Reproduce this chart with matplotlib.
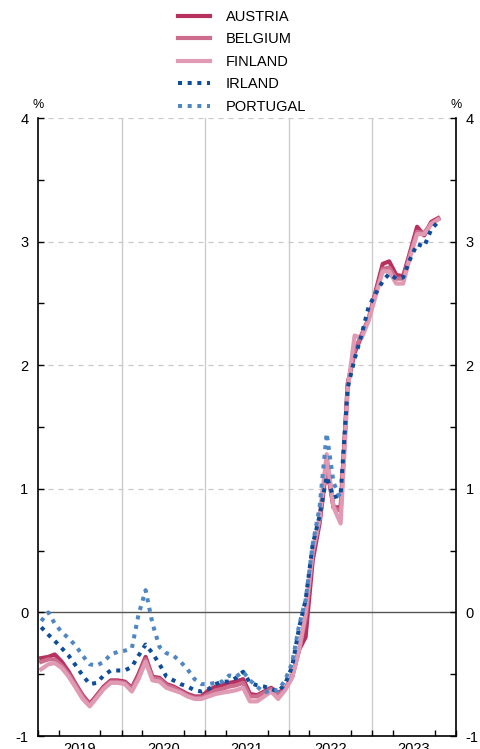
import numpy as np
import pandas as pd
import matplotlib
matplotlib.use("Agg")
import matplotlib.pyplot as plt
import matplotlib.dates as mdates

plt.rcParams['font.family'] = ['Liberation Sans', 'DejaVu Sans']
plt.rcParams['axes.unicode_minus'] = False

months = pd.date_range('2019-01-01', '2023-10-01', freq='MS') + pd.Timedelta(days=14)

austria = [-0.37, -0.36, -0.34, -0.40, -0.48, -0.58, -0.67, -0.74, -0.67, -0.60,
           -0.55, -0.55, -0.56, -0.61, -0.50, -0.36, -0.52, -0.53, -0.58, -0.60,
           -0.63, -0.66, -0.68, -0.68, -0.63, -0.60, -0.59, -0.57, -0.56, -0.54,
           -0.66, -0.67, -0.64, -0.61, -0.65, -0.62, -0.52, -0.30, -0.20, 0.42,
           0.72, 1.18, 0.85, 0.85, 1.85, 2.10, 2.24, 2.37, 2.60, 2.82,
           2.84, 2.73, 2.72, 2.92, 3.12, 3.05, 3.16, 3.19]
belgium = [-0.40, -0.38, -0.38, -0.43, -0.50, -0.59, -0.68, -0.75, -0.68, -0.61,
           -0.56, -0.56, -0.57, -0.62, -0.52, -0.38, -0.53, -0.54, -0.59, -0.61,
           -0.64, -0.67, -0.69, -0.69, -0.66, -0.63, -0.62, -0.60, -0.59, -0.57,
           -0.68, -0.68, -0.65, -0.62, -0.67, -0.62, -0.52, -0.30, -0.05, 0.48,
           0.75, 1.22, 0.85, 0.82, 1.85, 2.12, 2.25, 2.38, 2.58, 2.78,
           2.79, 2.70, 2.70, 2.90, 3.08, 3.07, 3.15, 3.18]
finland = [-0.46, -0.42, -0.41, -0.45, -0.52, -0.61, -0.70, -0.76, -0.69, -0.62,
           -0.57, -0.57, -0.58, -0.64, -0.54, -0.40, -0.55, -0.56, -0.61, -0.63,
           -0.65, -0.68, -0.70, -0.70, -0.68, -0.66, -0.65, -0.64, -0.63, -0.61,
           -0.72, -0.72, -0.68, -0.64, -0.70, -0.63, -0.53, -0.30, 0.00, 0.50,
           0.77, 1.28, 0.85, 0.72, 1.80, 2.24, 2.22, 2.36, 2.56, 2.76,
           2.76, 2.66, 2.66, 2.88, 3.06, 3.06, 3.14, 3.18]
irland = [-0.12, -0.18, -0.23, -0.29, -0.35, -0.43, -0.51, -0.58, -0.57, -0.51,
          -0.47, -0.47, -0.47, -0.44, -0.35, -0.26, -0.33, -0.42, -0.52, -0.55,
          -0.58, -0.60, -0.63, -0.64, -0.62, -0.58, -0.56, -0.56, -0.53, -0.48,
          -0.57, -0.59, -0.60, -0.62, -0.64, -0.58, -0.44, -0.12, 0.10, 0.55,
          0.78, 1.10, 0.93, 0.95, 1.82, 2.05, 2.25, 2.47, 2.58, 2.68,
          2.74, 2.70, 2.71, 2.86, 2.98, 2.96, 3.10, 3.16]
portugal = [-0.07, 0.00, -0.09, -0.16, -0.21, -0.27, -0.35, -0.42, -0.43, -0.40,
            -0.34, -0.32, -0.31, -0.29, -0.02, 0.18, -0.09, -0.28, -0.33, -0.35,
            -0.40, -0.46, -0.54, -0.58, -0.58, -0.57, -0.56, -0.51, -0.52, -0.48,
            -0.55, -0.60, -0.65, -0.63, -0.63, -0.55, -0.41, -0.10, 0.10, 0.55,
            0.85, 1.45, 1.05, 0.92]

years = [2019, 2020, 2021, 2022, 2023]

fig = plt.figure(figsize=(4.81, 7.49), dpi=100)
ax = fig.add_axes([38 / 481, 13 / 749, 418 / 481, 618 / 749])

dots = (0, (1, 1.4))
ax.plot(months, austria, color='#b8305f', lw=3.0, label='AUSTRIA')
ax.plot(months, belgium, color='#cc6d8e', lw=3.0, label='BELGIUM')
ax.plot(months, finland, color='#e09ab3', lw=3.0, label='FINLAND')
ax.plot(months, irland, color='#0d4d9b', lw=2.9, ls=dots, label='IRLAND')
ax.plot(months[:len(portugal)], portugal, color='#4f86c4', lw=2.9, ls=dots, label='PORTUGAL')

ax.set_ylim(-1, 4)
ax.set_xlim(pd.Timestamp('2019-01-01'), pd.Timestamp('2024-01-01'))

for y in [1, 2, 3, 4]:
    ax.axhline(y, color='#c8c8c8', lw=0.9, ls=(0, (4, 4)), zorder=0)
ax.axhline(0, color='#555555', lw=1.0, zorder=0.5)
for yr in years[1:]:
    ax.axvline(pd.Timestamp(f'{yr}-01-01'), color='#cccccc', lw=1.0, zorder=0)

ax.set_yticks([-1, 0, 1, 2, 3, 4])
ax.set_yticks([-0.5, 0.5, 1.5, 2.5, 3.5], minor=True)
ax.tick_params(axis='y', which='both', direction='in', left=True, right=True,
               labelleft=True, labelright=True, length=4, width=1, labelsize=10.5, pad=7)

ax.set_xticks([pd.Timestamp(f'{yr}-07-01') for yr in years])
ax.set_xticklabels([str(yr) for yr in years])
ax.xaxis.set_minor_locator(mdates.MonthLocator(bymonth=[1, 4, 7, 10]))
ax.tick_params(axis='x', which='major', length=0, labelsize=10.5, pad=4)
ax.tick_params(axis='x', which='minor', direction='in', length=4, width=1)

ax.spines['top'].set_visible(False)
for s in ['left', 'right', 'bottom']:
    ax.spines[s].set_linewidth(1.2)

ax.text(0, 1.012, '%', transform=ax.transAxes, ha='center', va='bottom', fontsize=9)
ax.text(1, 1.012, '%', transform=ax.transAxes, ha='center', va='bottom', fontsize=9)

fig.legend(loc='upper left', bbox_to_anchor=(172 / 481, 1 - 4 / 749), frameon=False,
           fontsize=10.5, handlelength=2.2, handletextpad=1.1, labelspacing=0.58,
           borderaxespad=0)

fig.savefig('out.png', dpi=100)
